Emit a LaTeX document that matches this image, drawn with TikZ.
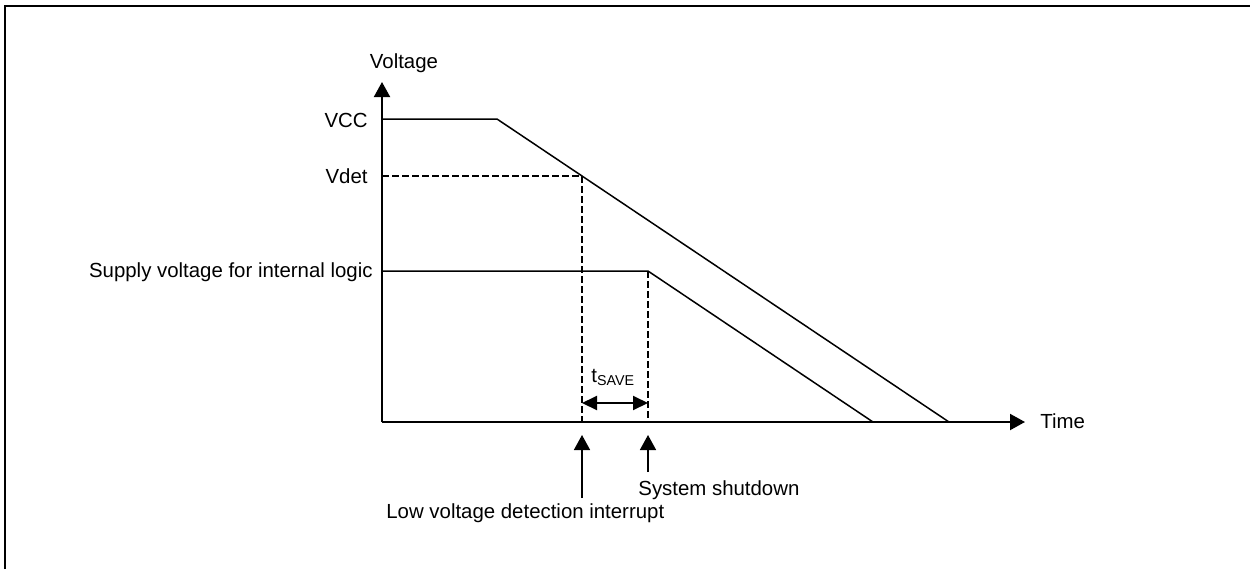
\documentclass[tikz,border=0pt]{standalone}
\usepackage{fontspec}
\setmainfont{Liberation Sans}
\usetikzlibrary{arrows.meta}
\begin{document}
\begin{tikzpicture}[x=0.5pt,y=-0.5pt,
  font=\fontsize{10.2}{12}\selectfont,
  axis/.style={line width=1pt},
  curve/.style={line width=0.75pt},
  dashline/.style={line width=1.1pt, dash pattern=on 3.5pt off 1.5pt},
  tip/.style={-{Triangle[length=7.5pt,width=8pt]}},
  dtip/.style={{Triangle[length=7.5pt,width=7pt]}-{Triangle[length=7.5pt,width=7pt]}},
  lbl/.style={inner sep=0pt}]
\useasboundingbox (0,0) rectangle (1250,569);
\draw[line width=1pt] (5,569) -- (5,6) -- (1250,6);
% axes
\coordinate (O) at (382,422);
\coordinate (ytop) at (382,82);
\coordinate (xend) at (1025,422);
\draw[axis,tip] (O) -- (ytop);
\draw[axis,tip] (O) -- (xend);
% VCC curve
\coordinate (vcc0) at (382,119);
\coordinate (vcc1) at (497,119);
\coordinate (vcc2) at (949,422);
\draw[curve] (vcc0) -- (vcc1) -- (vcc2);
% internal logic curve
\coordinate (il0) at (382,271);
\coordinate (il1) at (648,271);
\coordinate (il2) at (873,422);
\draw[curve] (il0) -- (il1) -- (il2);
% Vdet dashed
\coordinate (vd0) at (382,176);
\coordinate (vd1) at (582,176);
\coordinate (vd2) at (582,422);
\coordinate (sd2) at (648,422);
\draw[dashline] (vd0) -- (vd1) -- (vd2);
\draw[dashline] (il1) -- (sd2);
% tSAVE
\coordinate (ts0) at (582,403);
\coordinate (ts1) at (648,403);
\draw[line width=1pt,dtip] (ts0) -- (ts1);
\node[lbl,anchor=base west] (tsave) at (591,382) {t\textsubscript{SAVE}};
% labels
\node[lbl,anchor=base] (voltage) at (404,68) {Voltage};
\node[lbl,anchor=base east] (vcc) at (368,127) {VCC};
\node[lbl,anchor=base east] (vdet) at (368,183) {Vdet};
\node[lbl,anchor=base east] (supply) at (373,277) {Supply voltage for internal logic};
\node[lbl,anchor=base west] (time) at (1040,428) {Time};
% bottom arrows
\node[lbl,anchor=base west] (shut) at (638,495) {System shutdown};
\node[lbl,anchor=base west] (lvd) at (386,518) {Low voltage detection interrupt};
\coordinate (a1tail) at (582,498);
\coordinate (a1tip) at (582,435);
\coordinate (a2tail) at (648,472);
\coordinate (a2tip) at (648,435);
\draw[line width=0.75pt,tip] (a1tail) -- (a1tip);
\draw[line width=0.75pt,tip] (a2tail) -- (a2tip);
\end{tikzpicture}
\end{document}
